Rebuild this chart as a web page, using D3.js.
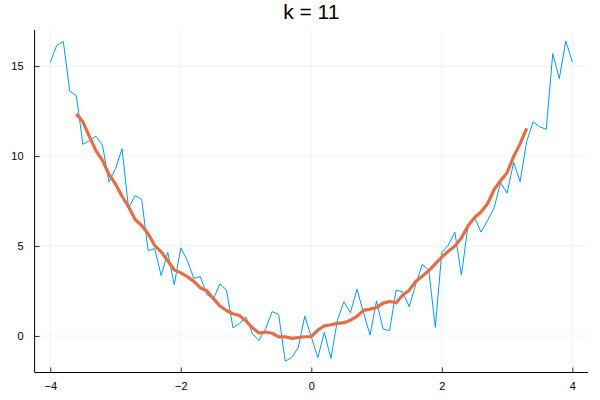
<!DOCTYPE html>
<html>
<head>
<meta charset="utf-8">
<script src="https://cdn.jsdelivr.net/npm/d3@7"></script>
<style>
  html, body { margin: 0; padding: 0; background: #fff; }
  svg { display: block; }
  text { font-family: "Liberation Sans", Arial, sans-serif; }
</style>
</head>
<body>
<svg id="chart" width="600" height="400"></svg>
<script>
// x positions of the noisy series (-4 to 4, step 0.1)
const xNoisy = [-4.0,-3.9,-3.8,-3.7,-3.6,-3.5,-3.4,-3.3,-3.2,-3.1,-3.0,-2.9,-2.8,-2.7,-2.6,-2.5,-2.4,-2.3,-2.2,-2.1,
  -2.0,-1.9,-1.8,-1.7,-1.6,-1.5,-1.4,-1.3,-1.2,-1.1,-1.0,-0.9,-0.8,-0.7,-0.6,-0.5,-0.4,-0.3,-0.2,-0.1,
  0.0,0.1,0.2,0.3,0.4,0.5,0.6,0.7,0.8,0.9,1.0,1.1,1.2,1.3,1.4,1.5,1.6,1.7,1.8,1.9,
  2.0,2.1,2.2,2.3,2.4,2.5,2.6,2.7,2.8,2.9,3.0,3.1,3.2,3.3,3.4,3.5,3.6,3.7,3.8,3.9,4.0];
const yNoisy = [15.2,16.15,16.35,13.6,13.35,10.65,10.85,11.1,10.6,8.55,9.3,10.4,7.1,7.8,7.6,4.75,4.85,3.35,4.65,2.85,
  4.9,4.2,3.2,3.3,2.3,2.05,2.9,2.55,0.45,0.7,1.05,0.1,-0.25,0.4,1.35,1.2,-1.4,-1.2,-0.65,1.1,
  -0.05,-1.2,0.2,-1.25,0.88,1.9,1.3,2.6,1.3,0.05,1.95,0.38,0.3,2.55,2.45,1.63,2.85,3.98,3.65,0.48,
  4.65,5.05,5.77,3.37,6.09,6.6,5.77,6.41,7.1,8.52,7.93,9.65,8.58,10.8,11.9,11.62,11.48,15.69,14.3,16.39,15.22];

// x positions of the smoothed series (-3.6 to 3.3)
const xSmooth = [-3.6,-3.5,-3.4,-3.3,-3.2,-3.1,-3.0,-2.9,-2.8,-2.7,-2.6,-2.5,-2.4,-2.3,-2.2,-2.1,
  -2.0,-1.9,-1.8,-1.7,-1.6,-1.5,-1.4,-1.3,-1.2,-1.1,-1.0,-0.9,-0.8,-0.7,-0.6,-0.5,-0.4,-0.3,-0.2,-0.1,
  0.0,0.1,0.2,0.3,0.4,0.5,0.6,0.7,0.8,0.9,1.0,1.1,1.2,1.3,1.4,1.5,1.6,1.7,1.8,1.9,
  2.0,2.1,2.2,2.3,2.4,2.5,2.6,2.7,2.8,2.9,3.0,3.1,3.2,3.3];
const ySmooth = [12.34,11.90,11.08,10.30,9.755,8.973,8.445,7.764,7.177,6.473,6.141,5.677,5.023,4.677,4.177,3.673,
  3.505,3.295,3.032,2.673,2.509,2.073,1.668,1.414,1.236,1.136,0.823,0.45,0.159,0.218,0.15,-0.055,-0.045,-0.136,-0.093,-0.043,
  -0.034,0.330,0.557,0.621,0.698,0.737,0.874,1.087,1.424,1.492,1.578,1.822,1.917,1.843,
  2.261,2.543,3.033,3.312,3.634,4.011,4.387,4.711,4.995,5.437,6.115,6.569,6.890,7.347,8.123,8.625,9.069,9.971,10.688,11.533];

const xTicks = [-4, -2, 0, 2, 4];
const yTicks = [0, 5, 10, 15];
const title = "k = 11";

const svg = d3.select("#chart");
const plot = { left: 34.6, right: 588, top: 30, bottom: 372.5 };

const x = d3.scaleLinear().domain([-4.24, 4.24]).range([plot.left, plot.right]);
const y = d3.scaleLinear().domain([-2.03, 17.0]).range([plot.bottom, plot.top]);

const fmt = d => d < 0 ? "\u2212" + Math.abs(d) : String(d);

// grid
const grid = svg.append("g");
grid.selectAll("line.gx").data(xTicks).join("line")
  .attr("x1", d => x(d)).attr("x2", d => x(d))
  .attr("y1", plot.top).attr("y2", plot.bottom)
  .attr("stroke", "#000").attr("stroke-opacity", 0.1).attr("stroke-width", 0.5);
grid.selectAll("line.gy").data(yTicks).join("line")
  .attr("y1", d => y(d)).attr("y2", d => y(d))
  .attr("x1", plot.left).attr("x2", plot.right)
  .attr("stroke", "#000").attr("stroke-opacity", 0.1).attr("stroke-width", 0.5);

// axes
const xAxis = d3.axisBottom(x).tickValues(xTicks).tickFormat(fmt).tickSizeInner(-5).tickSizeOuter(0).tickPadding(10);
const yAxis = d3.axisLeft(y).tickValues(yTicks).tickFormat(fmt).tickSizeInner(-5).tickSizeOuter(0).tickPadding(11);

const gx = svg.append("g").attr("transform", `translate(0,${plot.bottom})`).call(xAxis);
const gy = svg.append("g").attr("transform", `translate(${plot.left},0)`).call(yAxis);
[gx, gy].forEach(g => {
  g.select(".domain").attr("stroke", "#000").attr("stroke-width", 1);
  g.selectAll(".tick line").attr("stroke", "#000").attr("stroke-opacity", 0.8);
  g.selectAll(".tick text").attr("font-family", "Liberation Sans, Arial, sans-serif")
    .attr("font-size", 11).attr("fill", "#000");
});
gx.select(".domain").attr("d", `M${plot.left},0H${plot.right}`);
gy.select(".domain").attr("d", `M0,${plot.bottom}V${plot.top}`);

// clip
svg.append("clipPath").attr("id", "clip").append("rect")
  .attr("x", plot.left).attr("y", plot.top)
  .attr("width", plot.right - plot.left).attr("height", plot.bottom - plot.top);

const line = d3.line().x(d => x(d[0])).y(d => y(d[1]));

svg.append("path")
  .datum(d3.zip(xNoisy, yNoisy))
  .attr("clip-path", "url(#clip)")
  .attr("fill", "none").attr("stroke", "#009AFA").attr("stroke-width", 1)
  .attr("stroke-linejoin", "round")
  .attr("d", line);

svg.append("path")
  .datum(d3.zip(xSmooth, ySmooth))
  .attr("clip-path", "url(#clip)")
  .attr("fill", "none").attr("stroke", "#E26F46").attr("stroke-width", 3.2)
  .attr("stroke-linejoin", "round")
  .attr("d", line);

// title
svg.append("text")
  .attr("x", (plot.left + plot.right) / 2).attr("y", 19)
  .attr("text-anchor", "middle")
  .attr("font-size", 21).attr("fill", "#000")
  .text(title);
</script>
</body>
</html>
